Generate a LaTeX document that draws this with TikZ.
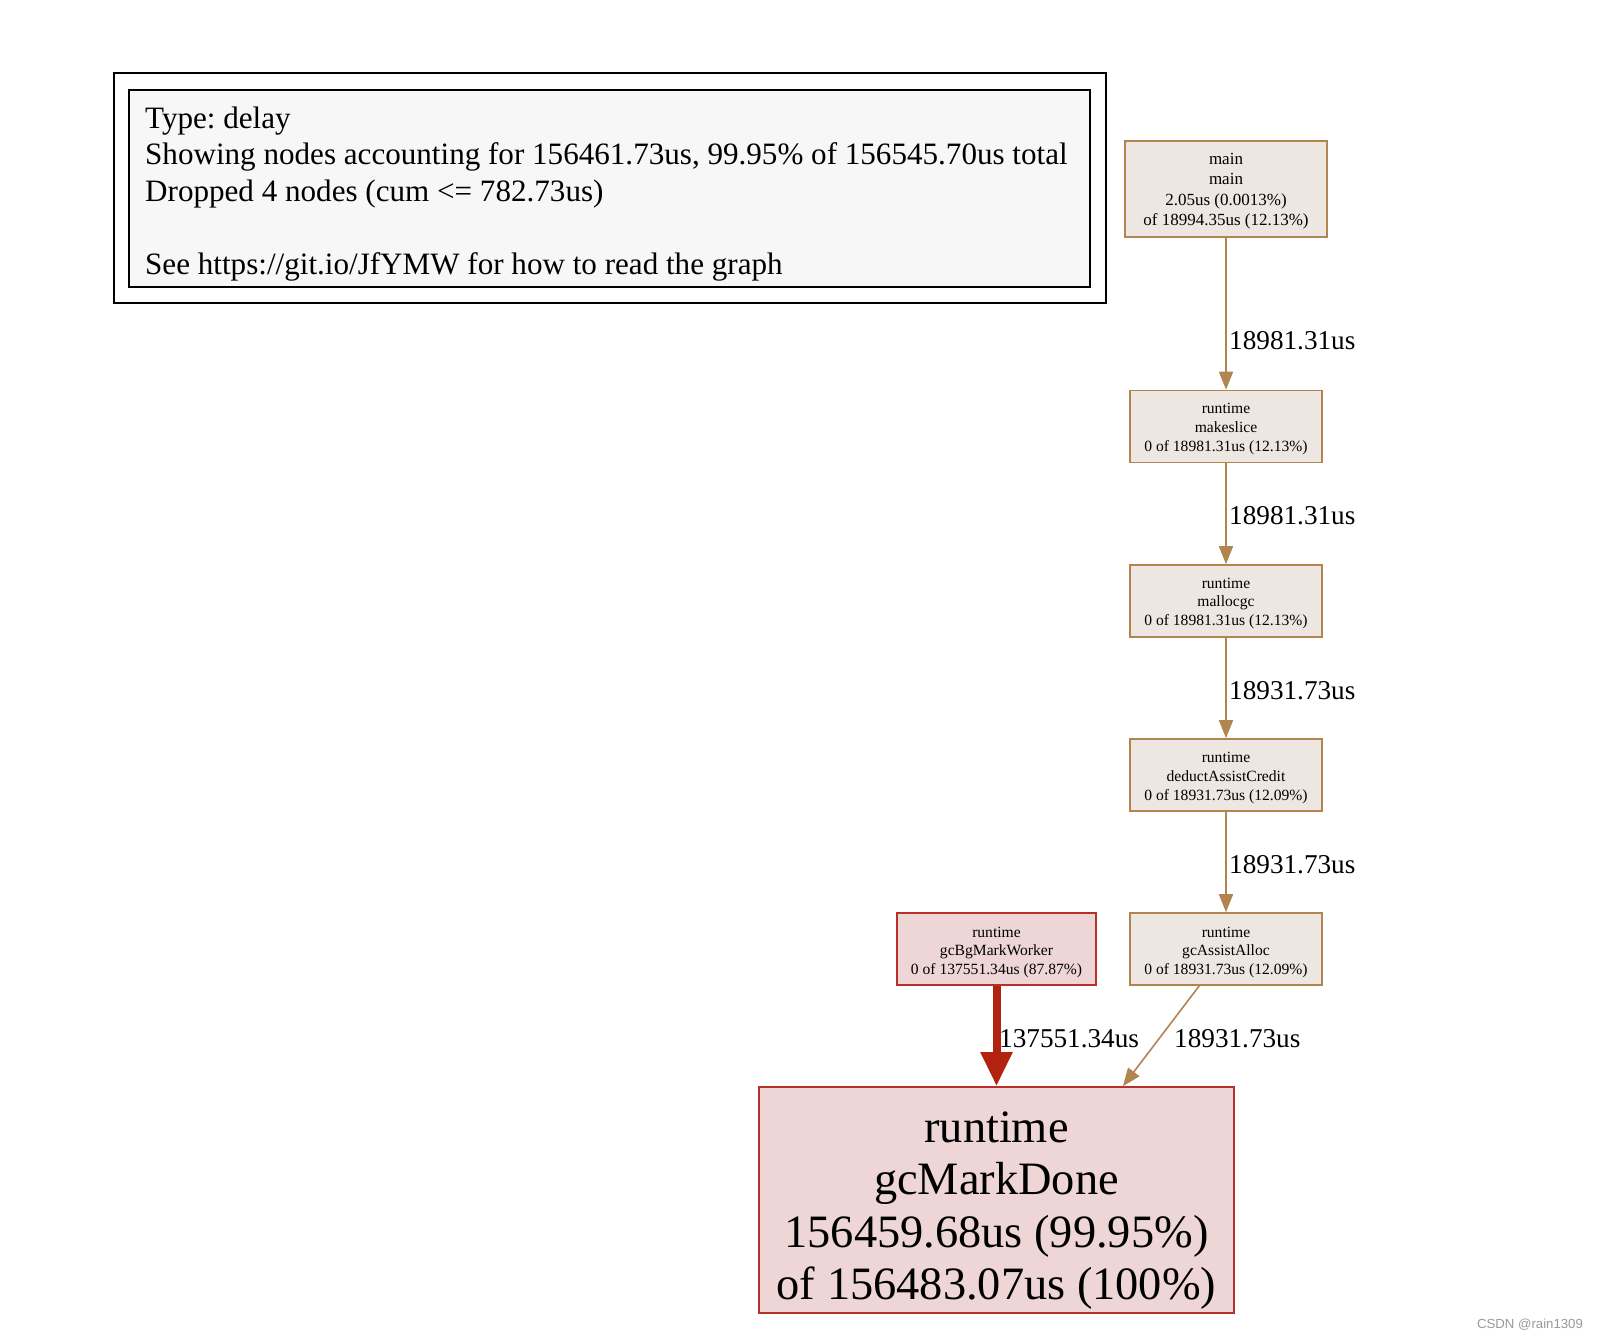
\documentclass[tikz,border=0pt]{standalone}
\usepackage{fontspec}
\setmainfont{Liberation Serif}
\usetikzlibrary{arrows.meta}

\definecolor{brownline}{HTML}{B28450}
\definecolor{brownfill}{HTML}{EDE6E1}
\definecolor{redline}{HTML}{B8302A}
\definecolor{redfill}{HTML}{EDD6D5}
\definecolor{redarrow}{HTML}{B2230F}
\definecolor{legendfill}{HTML}{F7F7F7}

\begin{document}
\begin{tikzpicture}[x=1pt, y=-1pt,
	fn/.style={draw=brownline, fill=brownfill, line width=1.6pt, inner sep=0pt,
		align=center, minimum width=192pt, minimum height=72pt,
		font=\fontsize{15.6}{18.7}\selectfont},
	hot/.style={fn, draw=redline, fill=redfill},
	edge/.style={draw=brownline, line width=1.6pt, -{Triangle[width=14pt,length=18pt]}},
	hotedge/.style={draw=redarrow, line width=8pt, -{Triangle[width=30pt,length=34pt]}},
	weight/.style={anchor=west, inner sep=0pt, font=\fontsize{27.2}{30}\selectfont}]

\useasboundingbox (0,0) rectangle (1598,1340);

% legend
\node at (610, 188)[draw, line width=1.6pt, minimum width=992pt, minimum height=230pt](frame){};
\node at (609.5, 188.5)[draw, fill=legendfill, line width=1.6pt,
	minimum width=961pt, minimum height=197pt](legend){};
\node at (145, 194)[anchor=west, align=left, inner sep=0pt,
	font=\frenchspacing\fontsize{31.1}{36.7}\selectfont](legendtext){Type: delay\\
Showing nodes accounting for 156461.73us, 99.95\% of 156545.70us total\\
Dropped 4 nodes (cum <= 782.73us)\\
\mbox{}\\
See https://git.io/JfYMW for how to read the graph};

% call chain
\node at (1226, 189)[fn, minimum width=202pt, minimum height=96pt,
	font=\fontsize{17}{20.4}\selectfont](main){\rule{0pt}{16pt}main\\main\\2.05us (0.0013\%)\\of 18994.35us (12.13\%)};
\node at (1226, 426.5)[fn](makeslice){\rule{0pt}{15pt}runtime\\makeslice\\0 of 18981.31us (12.13\%)};
\node at (1226, 601)[fn](mallocgc){\rule{0pt}{15pt}runtime\\mallocgc\\0 of 18981.31us (12.13\%)};
\node at (1226, 775)[fn](deduct){\rule{0pt}{16pt}runtime\\deductAssistCredit\\0 of 18931.73us (12.09\%)};
\node at (1226, 949)[fn](assist){\rule{0pt}{17pt}runtime\\gcAssistAlloc\\0 of 18931.73us (12.09\%)};
\node at (996.5, 949)[hot, minimum width=199pt](worker){\rule{0pt}{17pt}runtime\\gcBgMarkWorker\\0 of 137551.34us (87.87\%)};
\node at (996.5, 1200)[hot, minimum width=475pt, minimum height=226pt,
	font=\fontsize{46.4}{52.3}\selectfont](markdone){\rule{0pt}{52pt}runtime\\gcMarkDone\\156459.68us (99.95\%)\\of 156483.07us (100\%)};

\draw[edge] (main) -- (makeslice);
\draw[edge] (makeslice) -- (mallocgc);
\draw[edge] (mallocgc) -- (deduct);
\draw[edge] (deduct) -- (assist);
\draw[hotedge] (worker) -- (markdone);
\draw[edge] (assist.234) -- (markdone.42.9);

\node at (1229, 341)[weight](w1){18981.31us};
\node at (1229, 516)[weight](w2){18981.31us};
\node at (1229, 691)[weight](w3){18931.73us};
\node at (1229, 865)[weight](w4){18931.73us};
\node at (999, 1039)[weight](w5){137551.34us};
\node at (1174, 1039)[weight](w6){18931.73us};

\node at (1530, 1325)[text=black!40, inner sep=0pt,
	font=\fontspec{Liberation Sans}\fontsize{13.2}{15}\selectfont](mark){CSDN @rain1309};
\end{tikzpicture}
\end{document}
